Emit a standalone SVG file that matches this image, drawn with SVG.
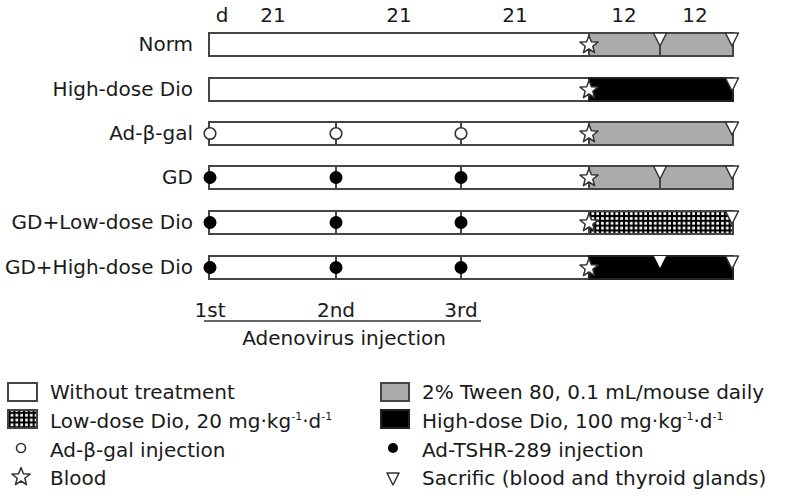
<svg xmlns="http://www.w3.org/2000/svg" xmlns:xlink="http://www.w3.org/1999/xlink" width="785" height="500" viewBox="0 0 785 500">
<style>
text{font-family:"DejaVu Sans","Verdana",sans-serif;font-size:20px;fill:#1a1a1a}
.lab{text-anchor:end}
.mid{text-anchor:middle}
.bar{fill:#fff;stroke:#444;stroke-width:2}
.gray{fill:#ababab;stroke:#444;stroke-width:2}
.black{fill:#000;stroke:#222;stroke-width:2}
.chk{fill:url(#chk);stroke:#444;stroke-width:2}
.div{stroke:#444;stroke-width:2}
.oc{fill:#fff;stroke:#333;stroke-width:1.6}
.fc{fill:#000}
.sup{font-size:11px}
</style>
<defs>
<pattern id="chk" x="0" y="0" width="4.8" height="4.8" patternUnits="userSpaceOnUse">
<rect width="4.8" height="4.8" fill="#000"/>
<rect x="1.1" y="1.1" width="2.7" height="2.7" fill="#fff"/>
</pattern>
<polygon id="star" points="0,-9.5 2.35,-3.2 9,-2.9 3.8,1.23 5.56,7.65 0,4 -5.56,7.65 -3.8,1.23 -9,-2.9 -2.35,-3.2" fill="#fff" stroke="#333" stroke-width="1.5" stroke-linejoin="round"/>
<polygon id="tri" points="-6.5,0 6.5,0 0,13" fill="#fff" stroke="#333" stroke-width="1.5" stroke-linejoin="round"/>
</defs>

<g id="header">
<text x="222" y="22" class="mid">d</text>
<text x="273" y="22" class="mid">21</text>
<text x="399" y="22" class="mid">21</text>
<text x="515" y="22" class="mid">21</text>
<text x="624" y="22" class="mid">12</text>
<text x="695" y="22" class="mid">12</text>
</g>

<g id="row-norm">
<text x="193" y="51" class="lab">Norm</text>
<rect x="209" y="33" width="380" height="23" class="bar"/>
<rect x="589" y="33" width="144" height="23" class="gray"/>
<line x1="660" y1="45" x2="660" y2="56" class="div"/>
<use xlink:href="#tri" x="660" y="33"/>
<use xlink:href="#tri" x="732" y="33"/>
<use xlink:href="#star" x="589" y="45"/>
</g>

<g id="row-high">
<text x="193" y="96" class="lab">High-dose Dio</text>
<rect x="209" y="78" width="380" height="23" class="bar"/>
<rect x="589" y="78" width="144" height="23" class="black"/>
<use xlink:href="#tri" x="732" y="78"/>
<use xlink:href="#star" x="589" y="90"/>
</g>

<g id="row-adgal">
<text x="193" y="140" class="lab">Ad-β-gal</text>
<rect x="209" y="122" width="380" height="23" class="bar"/>
<rect x="589" y="122" width="144" height="23" class="gray"/>
<line x1="336" y1="122" x2="336" y2="145" class="div"/>
<line x1="461" y1="122" x2="461" y2="145" class="div"/>
<circle cx="210" cy="133.5" r="5.8" class="oc"/>
<circle cx="336" cy="133.5" r="5.8" class="oc"/>
<circle cx="461" cy="133.5" r="5.8" class="oc"/>
<use xlink:href="#tri" x="732" y="122"/>
<use xlink:href="#star" x="589" y="134"/>
</g>

<g id="row-gd">
<text x="193" y="184" class="lab">GD</text>
<rect x="209" y="166" width="380" height="23" class="bar"/>
<rect x="589" y="166" width="144" height="23" class="gray"/>
<line x1="336" y1="166" x2="336" y2="189" class="div"/>
<line x1="461" y1="166" x2="461" y2="189" class="div"/>
<line x1="660" y1="178" x2="660" y2="189" class="div"/>
<circle cx="210" cy="177.5" r="6.5" class="fc"/>
<circle cx="336" cy="177.5" r="6.5" class="fc"/>
<circle cx="461" cy="177.5" r="6.5" class="fc"/>
<use xlink:href="#tri" x="660" y="166"/>
<use xlink:href="#tri" x="732" y="166"/>
<use xlink:href="#star" x="589" y="178"/>
</g>

<g id="row-gd-low">
<text x="193" y="229" class="lab">GD+Low-dose Dio</text>
<rect x="209" y="211" width="380" height="23" class="bar"/>
<rect x="589" y="211" width="144" height="23" class="chk"/>
<line x1="336" y1="211" x2="336" y2="234" class="div"/>
<line x1="461" y1="211" x2="461" y2="234" class="div"/>
<circle cx="210" cy="222.5" r="6.5" class="fc"/>
<circle cx="336" cy="222.5" r="6.5" class="fc"/>
<circle cx="461" cy="222.5" r="6.5" class="fc"/>
<use xlink:href="#tri" x="732" y="211"/>
<use xlink:href="#star" x="589" y="223"/>
</g>

<g id="row-gd-high">
<text x="193" y="274" class="lab">GD+High-dose Dio</text>
<rect x="209" y="256" width="380" height="23" class="bar"/>
<rect x="589" y="256" width="144" height="23" class="black"/>
<line x1="336" y1="256" x2="336" y2="279" class="div"/>
<line x1="461" y1="256" x2="461" y2="279" class="div"/>
<circle cx="210" cy="267.5" r="6.5" class="fc"/>
<circle cx="336" cy="267.5" r="6.5" class="fc"/>
<circle cx="461" cy="267.5" r="6.5" class="fc"/>
<polygon points="654,256 666,256 660,268" fill="#fff"/>
<use xlink:href="#tri" x="732" y="256"/>
<use xlink:href="#star" x="589" y="268"/>
</g>

<g id="injections">
<text x="210" y="317" class="mid">1st</text>
<text x="336" y="317" class="mid">2nd</text>
<text x="461" y="317" class="mid">3rd</text>
<line x1="204" y1="321" x2="481" y2="321" stroke="#333" stroke-width="1.5"/>
<text x="344" y="345" class="mid">Adenovirus injection</text>
</g>

<g id="legend">
<rect x="8" y="383" width="29" height="18" fill="#fff" stroke="#444" stroke-width="2"/>
<text x="50" y="399">Without treatment</text>
<rect x="8" y="410" width="29" height="18" fill="url(#chk)" stroke="#444" stroke-width="2"/>
<text x="50" y="428">Low-dose Dio, 20 mg·kg<tspan class="sup" dy="-8">-1</tspan><tspan dy="8">·d</tspan><tspan class="sup" dy="-8">-1</tspan></text>
<circle cx="21" cy="448" r="4.5" class="oc"/>
<text x="50" y="457">Ad-β-gal injection</text>
<use xlink:href="#star" x="21" y="477"/>
<text x="50" y="485">Blood</text>

<rect x="381" y="383" width="28" height="18" fill="#ababab" stroke="#444" stroke-width="2"/>
<text x="422" y="399">2% Tween 80, 0.1 mL/mouse daily</text>
<rect x="381" y="410" width="28" height="18" fill="#000" stroke="#222" stroke-width="2"/>
<text x="422" y="428">High-dose Dio, 100 mg·kg<tspan class="sup" dy="-8">-1</tspan><tspan dy="8">·d</tspan><tspan class="sup" dy="-8">-1</tspan></text>
<circle cx="393" cy="448" r="5" class="fc"/>
<text x="422" y="457">Ad-TSHR-289 injection</text>
<polygon points="387,473 399,473 393,485" fill="#fff" stroke="#333" stroke-width="1.5" stroke-linejoin="round"/>
<text x="422" y="485">Sacrific (blood and thyroid glands)</text>
</g>
</svg>
